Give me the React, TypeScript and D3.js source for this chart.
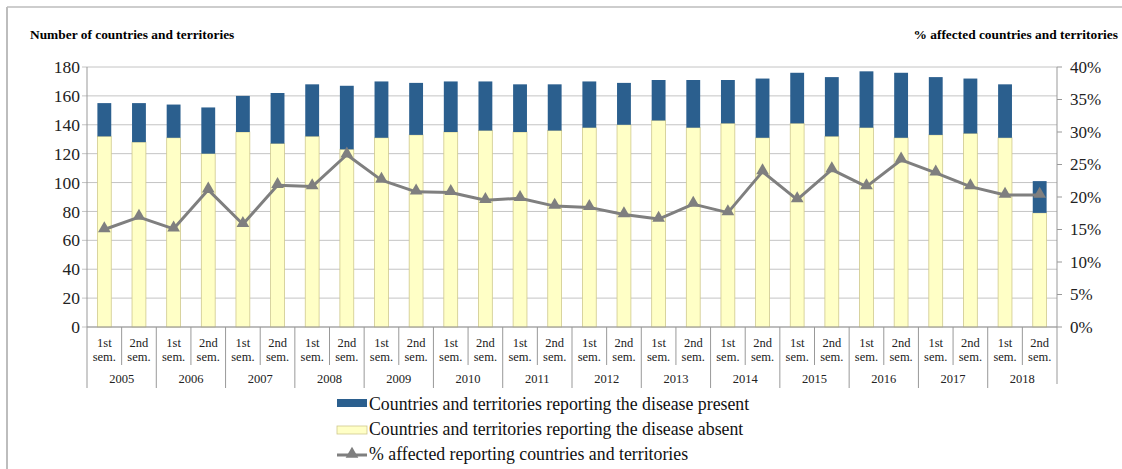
import * as d3 from "d3";

const WIDTH = 1122;
const HEIGHT = 469;

const years = ["2005", "2006", "2007", "2008", "2009", "2010", "2011", "2012", "2013", "2014", "2015", "2016", "2017", "2018"];
const semesters = ["1st", "2nd"];

// countries reporting (bar height) and those reporting the disease absent
const reporting = [155, 155, 154, 152, 160, 162, 168, 167, 170, 169, 170, 170, 168, 168, 170, 169, 171, 171, 171, 172, 176, 173, 177, 176, 173, 172, 168, 101];
const absent = [132, 128, 131, 120, 135, 127, 132, 123, 131, 133, 135, 136, 135, 136, 138, 140, 143, 138, 141, 131, 141, 132, 138, 131, 133, 134, 131, 79];
const affectedPct = [15.0, 16.9, 15.1, 21.1, 15.8, 21.8, 21.6, 26.5, 22.6, 20.8, 20.7, 19.5, 19.8, 18.6, 18.4, 17.3, 16.6, 18.9, 17.6, 23.9, 19.6, 24.2, 21.6, 25.7, 23.7, 21.6, 20.3, 20.3];

const leftTicks = [0, 20, 40, 60, 80, 100, 120, 140, 160, 180];
const rightTicks = [0, 5, 10, 15, 20, 25, 30, 35, 40];

const legendItems = [
  "Countries and territories reporting the disease present",
  "Countries and territories reporting the disease absent",
  "% affected reporting countries and territories",
];

const BLUE = "#2B5F8E";
const YELLOW = "#FFFFC6";
const GREY_LINE = "#7F7F7F";
const GRID = "#C4C4C4";
const FONT = '"Liberation Serif", Tinos, "Times New Roman", Times, "DejaVu Serif", serif';

const M = { left: 87, right: 1057, top: 67, bottom: 327 };

export default function App() {
  const cats = years.flatMap((y) => semesters.map((s) => `${y}-${s}`));

  const x = d3.scaleBand().domain(cats).range([M.left, M.right]).paddingInner(0.6).paddingOuter(0.3);
  const y = d3.scaleLinear().domain([0, 180]).range([M.bottom, M.top]);
  const yPct = d3.scaleLinear().domain([0, 40]).range([M.bottom, M.top]);
  const step = x.step();
  const bw = x.bandwidth();
  const cx = (i) => (x(cats[i]) ?? 0) + bw / 2;

  const line = d3
    .line<number>()
    .x((_, i) => cx(i))
    .y((d) => yPct(d));

  const tri = d3.symbol().type(d3.symbolTriangle).size(70)();

  return (
    <svg width={WIDTH} height={HEIGHT} style={{ position: "absolute", left: 0, top: 0, background: "#fff", fontFamily: FONT }}>
      {/* outer frame */}
      <line x1={7} x2={1122} y1={7} y2={7} stroke="#BDBDBD" strokeWidth={1.5} />
      <line x1={7} x2={7} y1={7} y2={469} stroke="#BDBDBD" strokeWidth={2} />

      <text x={30} y={39} fontSize={13.4} fontWeight="bold" style={{ fontFamily: FONT }}>Number of countries and territories</text>
      <text x={1118} y={39} fontSize={13.4} fontWeight="bold" textAnchor="end" style={{ fontFamily: FONT }}>% affected countries and territories</text>

      {/* grid + left axis */}
      {leftTicks.map((t) => (
        <g key={t}>
          <line x1={M.left - 5} x2={M.right} y1={y(t)} y2={y(t)} stroke={GRID} strokeWidth={1} />
          <text x={80} y={y(t)} dy="0.35em" fontSize={17.5} textAnchor="end" fill="#222" style={{ fontFamily: FONT }}>{t}</text>
        </g>
      ))}
      {rightTicks.map((t) => (
        <g key={t}>
          <line x1={M.right} x2={M.right + 5} y1={yPct(t)} y2={yPct(t)} stroke="#999" />
          <text x={1070} y={yPct(t)} dy="0.35em" fontSize={17} fill="#222" style={{ fontFamily: FONT }}>{t}%</text>
        </g>
      ))}
      <line x1={M.left} x2={M.left} y1={M.top} y2={388} stroke="#999" />
      <line x1={M.right} x2={M.right} y1={M.top} y2={384} stroke="#999" />

      {/* bars */}
      {cats.map((c, i) => (
        <g key={c}>
          <rect x={x(c)} width={bw} y={y(absent[i])} height={y(0) - y(absent[i])} fill={YELLOW} stroke="#CFC98E" strokeWidth={0.8} />
          <rect x={x(c)} width={bw} y={y(reporting[i])} height={y(absent[i]) - y(reporting[i])} fill={BLUE} />
        </g>
      ))}
      <line x1={M.left} x2={M.right} y1={M.bottom} y2={M.bottom} stroke="#999" />

      {/* line series */}
      <path d={line(affectedPct) ?? ""} fill="none" stroke={GREY_LINE} strokeWidth={3} strokeLinejoin="round" />
      {affectedPct.map((v, i) => (
        <path key={i} d={tri} transform={`translate(${cx(i)},${yPct(v) - 1})`} fill={GREY_LINE} />
      ))}

      {/* category axis */}
      {cats.map((c, i) => {
        const left = (x(c) ?? 0) - (step - bw) / 2;
        const isYearStart = i % 2 === 0;
        return (
          <g key={c} fill="#222">
            {i > 0 && <line x1={left} x2={left} y1={M.bottom} y2={isYearStart ? 388 : 365} stroke="#999" />}
            <text x={cx(i)} y={347} fontSize={12.5} textAnchor="middle" style={{ fontFamily: FONT }}>{semesters[i % 2]}</text>
            <text x={cx(i)} y={361} fontSize={12.5} textAnchor="middle" style={{ fontFamily: FONT }}>sem.</text>
          </g>
        );
      })}
      {years.map((yr, j) => (
        <text key={yr} x={cx(j * 2) + step / 2} y={383} fontSize={12.5} textAnchor="middle" fill="#222" style={{ fontFamily: FONT }}>{yr}</text>
      ))}

      {/* legend */}
      <g fill="#111">
        <rect x={337} y={399} width={30} height={8} fill={BLUE} />
        <text x={369} y={410} fontSize={17.8} style={{ fontFamily: FONT }}>{legendItems[0]}</text>
        <rect x={337} y={426} width={30} height={8} fill={YELLOW} stroke="#CFC98E" strokeWidth={0.8} />
        <text x={369} y={435} fontSize={17.8} style={{ fontFamily: FONT }}>{legendItems[1]}</text>
        <line x1={337} x2={367} y1={455} y2={455} stroke={GREY_LINE} strokeWidth={3} />
        <path d={tri} transform="translate(352,454)" fill={GREY_LINE} />
        <text x={369} y={460} fontSize={17.8} style={{ fontFamily: FONT }}>{legendItems[2]}</text>
      </g>
    </svg>
  );
}
